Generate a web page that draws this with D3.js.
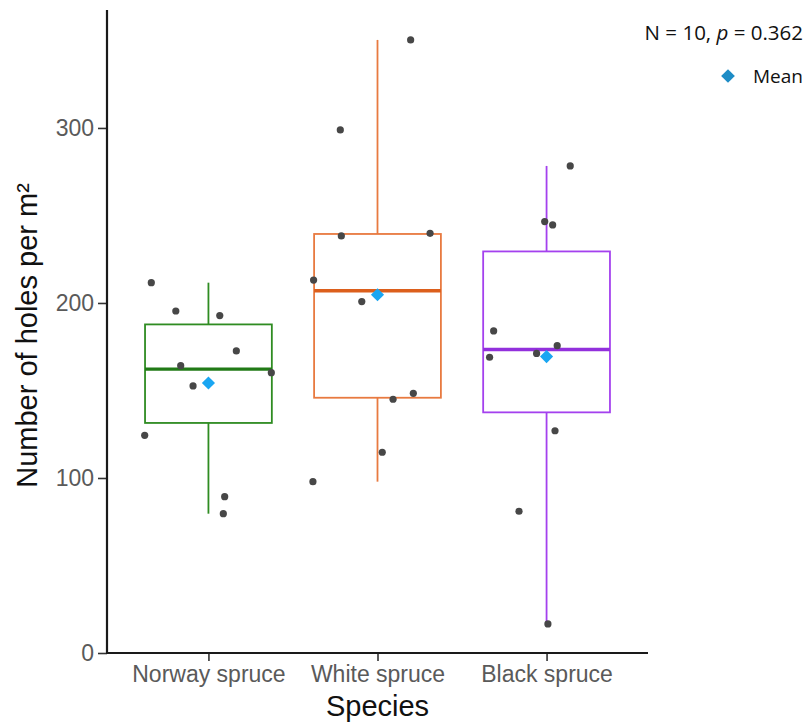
<!DOCTYPE html>
<html>
<head>
<meta charset="utf-8">
<script src="https://cdn.jsdelivr.net/npm/d3@7"></script>
<style>
  body { margin: 0; background: #fff; }
  svg { display: block; }
</style>
</head>
<body>
<div id="chart"></div>
<script>
const species = ['Norway spruce', 'White spruce', 'Black spruce'];

// holes per m2
const norway = [211.6, 195.4, 192.8, 172.6, 164.2, 160.2, 152.6, 124.4, 89.3, 79.6];
const white = [350.3, 298.9, 238.3, 239.8, 213.1, 200.8, 148.4, 145.0, 114.7, 97.9];
const black = [278.3, 246.5, 244.6, 184.0, 175.6, 171.2, 169.0, 127.0, 81.0, 16.6];

// horizontal jitter of each dot, in category units
const norwayJitter = [-0.338, -0.193, 0.067, 0.165, -0.164, 0.372, -0.091, -0.377, 0.096, 0.088];
const whiteJitter = [0.196, -0.220, -0.214, 0.311, -0.378, -0.093, 0.212, 0.092, 0.028, -0.382];
const blackJitter = [0.140, -0.011, 0.036, -0.313, 0.063, -0.059, -0.337, 0.050, -0.163, 0.008];

const yTicks = [0, 100, 200, 300];
const boxColors = ['#2f8c22', '#e87a40', '#a441ee'];
const medianColors = ['#217a16', '#dc5f1c', '#9230dc'];

const width = 809, height = 723;
const axisLeft = 107, axisRight = 648, axisTop = 10, axisBottom = 653;
const font = '"Liberation Sans", Arial, sans-serif';

const svg = d3.select('#chart').append('svg')
  .attr('width', width)
  .attr('height', height)
  .style('font-family', font);

// discrete positions 1..3, padded by 0.6 on both sides
const x = d3.scaleLinear().domain([0.4, 3.6]).range([axisLeft, axisRight]);
const unit = x(2) - x(1);
const y = d3.scaleLinear().domain([0, 367.4]).range([axisBottom, axisTop]);

const groups = [norway, white, black].map((vals, i) => {
  const s = vals.slice().sort(d3.ascending);
  const q1 = d3.quantile(s, 0.25), med = d3.quantile(s, 0.5), q3 = d3.quantile(s, 0.75);
  const iqr = q3 - q1;
  const lo = d3.min(s.filter(v => v >= q1 - 1.5 * iqr));
  const hi = d3.max(s.filter(v => v <= q3 + 1.5 * iqr));
  return {
    name: species[i], pos: i + 1, vals, jitter: [norwayJitter, whiteJitter, blackJitter][i],
    q1, med, q3, lo, hi, mean: d3.mean(vals), color: boxColors[i], mcolor: medianColors[i]
  };
});

const boxW = 0.75 * unit;

const g = svg.selectAll('g.box').data(groups).enter().append('g').attr('class', 'box');

// whiskers
g.append('line')
  .attr('x1', d => x(d.pos)).attr('x2', d => x(d.pos))
  .attr('y1', d => y(d.q3)).attr('y2', d => y(d.hi))
  .attr('stroke', d => d.color).attr('stroke-width', 1.8);
g.append('line')
  .attr('x1', d => x(d.pos)).attr('x2', d => x(d.pos))
  .attr('y1', d => y(d.q1)).attr('y2', d => y(d.lo))
  .attr('stroke', d => d.color).attr('stroke-width', 1.8);

g.append('rect')
  .attr('x', d => x(d.pos) - boxW / 2)
  .attr('width', boxW)
  .attr('y', d => y(d.q3))
  .attr('height', d => y(d.q1) - y(d.q3))
  .attr('fill', 'none')
  .attr('stroke', d => d.color)
  .attr('stroke-width', 1.8);

g.append('line')
  .attr('x1', d => x(d.pos) - boxW / 2).attr('x2', d => x(d.pos) + boxW / 2)
  .attr('y1', d => y(d.med)).attr('y2', d => y(d.med))
  .attr('stroke', d => d.mcolor).attr('stroke-width', 3.4);

// jittered points
g.selectAll('circle')
  .data(d => d.vals.map((v, j) => ({ v, px: d.pos + d.jitter[j] })))
  .enter().append('circle')
  .attr('cx', d => x(d.px))
  .attr('cy', d => y(d.v))
  .attr('r', 3.6)
  .attr('fill', '#474747');

// means
const diamond = d3.symbol().type(d3.symbolDiamond2).size(110);
g.append('path')
  .attr('d', diamond)
  .attr('transform', d => `translate(${x(d.pos)},${y(d.mean)})`)
  .attr('fill', '#1aa6f2');

// axes
const yAxis = d3.axisLeft(y).tickValues(yTicks).tickSize(9).tickPadding(4);
const yg = svg.append('g').attr('transform', `translate(${axisLeft},0)`).call(yAxis);
yg.select('.domain').remove();
yg.append('line').attr('x1', 0).attr('x2', 0).attr('y1', axisTop).attr('y2', axisBottom)
  .attr('stroke', '#1a1a1a').attr('stroke-width', 2.2);
yg.selectAll('.tick line').attr('stroke', '#333').attr('stroke-width', 1.6);
yg.selectAll('.tick text').attr('fill', '#5a5a5a').style('font-size', '23px')
  .style('font-family', font);

const xAxis = d3.axisBottom(x).tickValues([1, 2, 3]).tickFormat(d => species[d - 1]).tickSize(8).tickPadding(5);
const xg = svg.append('g').attr('transform', `translate(0,${axisBottom})`).call(xAxis);
xg.select('.domain').remove();
xg.append('line').attr('x1', axisLeft - 1).attr('x2', axisRight).attr('y1', 0).attr('y2', 0)
  .attr('stroke', '#1a1a1a').attr('stroke-width', 2.2);
xg.selectAll('.tick line').attr('stroke', '#333').attr('stroke-width', 1.6);
xg.selectAll('.tick text').attr('fill', '#5a5a5a').style('font-size', '23px')
  .style('font-family', font);

// axis titles
svg.append('text')
  .attr('x', (axisLeft + axisRight) / 2)
  .attr('y', 716)
  .attr('text-anchor', 'middle')
  .style('font-size', '29px')
  .attr('fill', '#111')
  .text('Species');

svg.append('text')
  .attr('transform', `translate(37,${(axisTop + axisBottom) / 2 + 4}) rotate(-90)`)
  .attr('text-anchor', 'middle')
  .style('font-size', '29px')
  .attr('fill', '#111')
  .text('Number of holes per m²');

// annotation + legend
const note = svg.append('text')
  .attr('x', 803).attr('y', 40)
  .attr('text-anchor', 'end')
  .style('font-family', '"Open Sans", Lato, sans-serif')
  .style('font-size', '20.5px')
  .attr('fill', '#111');
note.append('tspan').text('N = 10, ');
note.append('tspan').style('font-style', 'italic').text('p');
note.append('tspan').text(' = 0.362');

svg.append('path')
  .attr('d', d3.symbol().type(d3.symbolDiamond2).size(120))
  .attr('transform', 'translate(728,76)')
  .attr('fill', '#1d8cc6');
svg.append('text')
  .attr('x', 803).attr('y', 83)
  .attr('text-anchor', 'end')
  .style('font-family', '"Open Sans", Lato, sans-serif')
  .style('font-size', '19px')
  .attr('fill', '#111')
  .text('Mean');
</script>
</body>
</html>
